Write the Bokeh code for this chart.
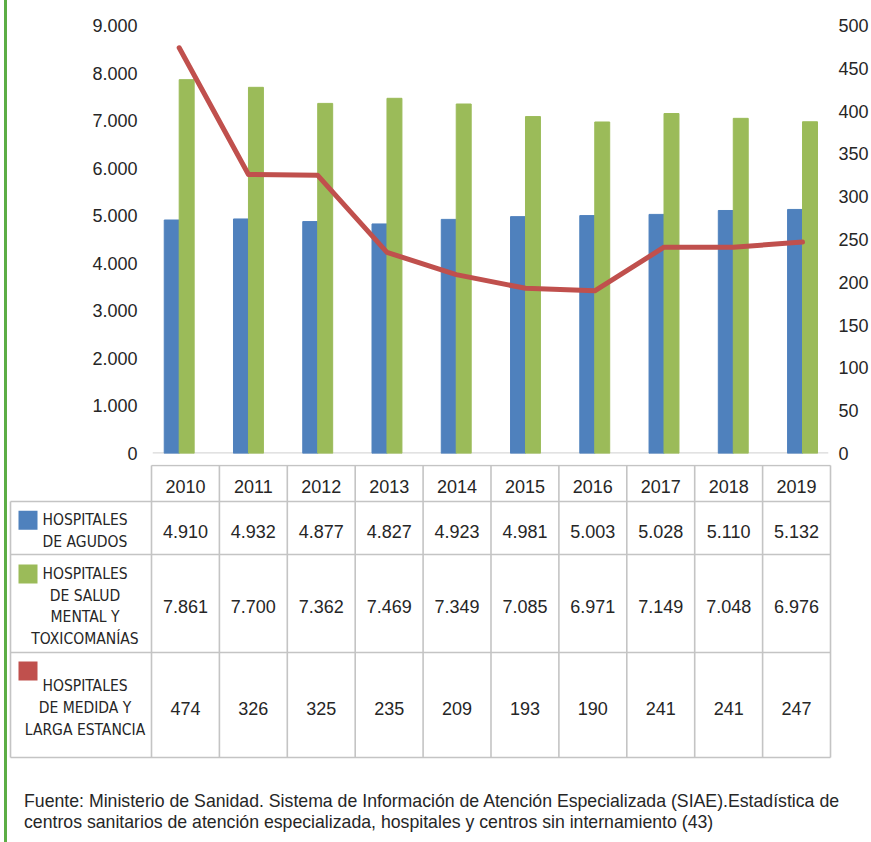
from bokeh.plotting import figure
from bokeh.models import Range1d, LinearAxis, FixedTicker, CustomJSTickFormatter, Span, ColumnDataSource
from bokeh.transform import dodge
from bokeh.core.properties import value
from bokeh.embed import file_html
from bokeh.resources import INLINE

# ---------------- data ----------------
YEARS = ["2010", "2011", "2012", "2013", "2014", "2015", "2016", "2017", "2018", "2019"]
AGUDOS = [4910, 4932, 4877, 4827, 4923, 4981, 5003, 5028, 5110, 5132]
SALUD_MENTAL = [7861, 7700, 7362, 7469, 7349, 7085, 6971, 7149, 7048, 6976]
MEDIA_LARGA = [474, 326, 325, 235, 209, 193, 190, 241, 241, 247]
LEFT_TICKS = [0, 1000, 2000, 3000, 4000, 5000, 6000, 7000, 8000, 9000]
RIGHT_TICKS = [0, 50, 100, 150, 200, 250, 300, 350, 400, 450, 500]
SERIES_LABELS = [
    ["HOSPITALES", "DE AGUDOS"],
    ["HOSPITALES", "DE SALUD", "MENTAL Y", "TOXICOMANÍAS"],
    ["HOSPITALES", "DE MEDIDA Y", "LARGA ESTANCIA"],
]
FOOTER = [
    "Fuente: Ministerio de Sanidad. Sistema de Información de Atención Especializada (SIAE).Estadística de",
    "centros sanitarios de atención especializada, hospitales y centros sin internamiento (43)",
]

# ---------------- styles ----------------
BLUE = "#4f81bd"
GREEN = "#9bbb59"
RED = "#c0504d"
COLORS = [BLUE, GREEN, RED]
TXT = "#262626"
GRID = "#c4c4c4"
EDGE_GREEN = "#5cad45"
NUM_FONT_NAME = "Liberation Sans"
NUM_FONT = value(NUM_FONT_NAME)
COND_FONT = value("'Liberation Sans Narrow', 'DejaVu Sans Condensed', 'Liberation Sans'")
W = 871
EDGE_CSS = {"background": f"linear-gradient(to right, #ffffff 4px, {EDGE_GREEN} 4px, "
                          f"{EDGE_GREEN} 7px, #ffffff 7px)"}


def fmt(v):
    return f"{v:,}".replace(",", ".")


# ---------------- chart ----------------
idx = list(range(len(YEARS)))
src = ColumnDataSource(dict(x=idx, agudos=AGUDOS, salud=SALUD_MENTAL, media=MEDIA_LARGA))

CH_H = 464
p = figure(width=W, height=CH_H, output_backend="svg", toolbar_location=None,
           x_range=Range1d(-0.3855, 9.375), y_range=Range1d(0, 9000),
           x_axis_type=None, min_border_left=152, min_border_right=43,
           min_border_top=25, min_border_bottom=11, outline_line_color=None,
           border_fill_color=None, background_fill_color=None, styles=EDGE_CSS)
p.extra_y_ranges = {"right": Range1d(0, 500)}
p.grid.visible = False

formatter = CustomJSTickFormatter(code="""
    if (tick >= 1000) {
        const t = Math.round(tick);
        return Math.floor(t / 1000) + '.' + String(t % 1000).padStart(3, '0');
    }
    return String(tick);
""")


def style_axis(ax, standoff):
    ax.axis_line_color = None
    ax.major_tick_line_color = None
    ax.minor_tick_line_color = None
    ax.major_tick_in = 0
    ax.major_tick_out = 0
    ax.major_label_standoff = standoff
    ax.major_label_text_font = NUM_FONT_NAME
    ax.major_label_text_font_size = "18px"
    ax.major_label_text_color = TXT


yl = p.yaxis[0]
yl.ticker = FixedTicker(ticks=LEFT_TICKS)
yl.formatter = formatter
style_axis(yl, 15)

yr = LinearAxis(y_range_name="right", ticker=FixedTicker(ticks=RIGHT_TICKS))
style_axis(yr, 10)
p.add_layout(yr, "right")

p.add_layout(Span(location=0, dimension="width", line_color="#d9d9d9",
                  line_width=2.5, level="underlay"))

BAR_W = 0.216
p.vbar(x=dodge("x", -BAR_W / 2, range=p.x_range), top="agudos", width=BAR_W,
       source=src, fill_color=BLUE, line_color=BLUE)
p.vbar(x=dodge("x", BAR_W / 2, range=p.x_range), top="salud", width=BAR_W,
       source=src, fill_color=GREEN, line_color=GREEN)
p.line("x", "media", source=src, y_range_name="right", line_color=RED,
       line_width=5, line_join="round", line_cap="round")

# ---------------- table + footer ----------------
T_H = 842 - CH_H
TBL_X0 = 10
COL0 = 151
COLW = 67.9
ROW_EDGES = [1, 37, 90, 188, 293]
TEXT_DY = 3
LABEL_CX = 84.5
LINE_H = 21.7
SW = 19
SW_X = 27.5
FOOT_X = 23.5
FOOT_Y = [336, 357.5]

t = figure(width=W, height=T_H, output_backend="svg", toolbar_location=None,
           x_range=Range1d(0, W), y_range=Range1d(T_H, 0),
           x_axis_type=None, y_axis_type=None, min_border_left=0, min_border_right=0,
           min_border_top=0, min_border_bottom=0, outline_line_color=None,
           border_fill_color=None, background_fill_color=None, styles=EDGE_CSS)
t.grid.visible = False

ncol = len(YEARS)
col_right = COL0 + ncol * COLW
hx0 = [COL0] + [TBL_X0] * (len(ROW_EDGES) - 1)
hx1 = [col_right] * len(ROW_EDGES)
t.segment(x0=hx0, y0=ROW_EDGES, x1=hx1, y1=ROW_EDGES, line_color=GRID, line_width=1.6)
vx = [TBL_X0] + [COL0 + j * COLW for j in range(ncol + 1)]
vy0 = [ROW_EDGES[1]] + [ROW_EDGES[0]] * (ncol + 1)
vy1 = [ROW_EDGES[-1]] * (ncol + 2)
t.segment(x0=vx, y0=vy0, x1=vx, y1=vy1, line_color=GRID, line_width=1.6)

centers_x = [COL0 + (j + 0.5) * COLW for j in range(ncol)]
row_cy = [(ROW_EDGES[i] + ROW_EDGES[i + 1]) / 2 + TEXT_DY for i in range(len(ROW_EDGES) - 1)]

t.text(x=centers_x, y=[row_cy[0]] * ncol, text=YEARS, text_align="center",
       text_baseline="middle", text_font=NUM_FONT, text_font_size="18px", text_color=TXT)
for r, series in enumerate([AGUDOS, SALUD_MENTAL, MEDIA_LARGA]):
    t.text(x=centers_x, y=[row_cy[r + 1]] * ncol, text=[fmt(v) for v in series],
           text_align="center", text_baseline="middle", text_font=NUM_FONT,
           text_font_size="18px", text_color=TXT)

lx, ly, lt = [], [], []
sw_y = []
for r, lines in enumerate(SERIES_LABELS):
    cy = row_cy[r + 1]
    n = len(lines)
    ys = [cy + (k - (n - 1) / 2) * LINE_H for k in range(n)]
    for k, s in enumerate(lines):
        lx.append(LABEL_CX)
        ly.append(ys[k])
        lt.append(s)
    sw_y.append(ys[0] if r < 2 else ys[0] - 15.3)
t.text(x=lx, y=ly, text=lt, text_align="center", text_baseline="middle",
       text_font=COND_FONT, text_font_size="15.5px", text_color=TXT)
t.rect(x=[SW_X] * 3, y=sw_y, width=SW, height=SW, fill_color=COLORS, line_color=None)

t.text(x=[FOOT_X] * len(FOOTER), y=FOOT_Y, text=FOOTER, text_align="left",
       text_baseline="middle", text_font=NUM_FONT, text_font_size="17.7px", text_color=TXT)

open("out.html", "w").write(file_html([p, t], INLINE))
